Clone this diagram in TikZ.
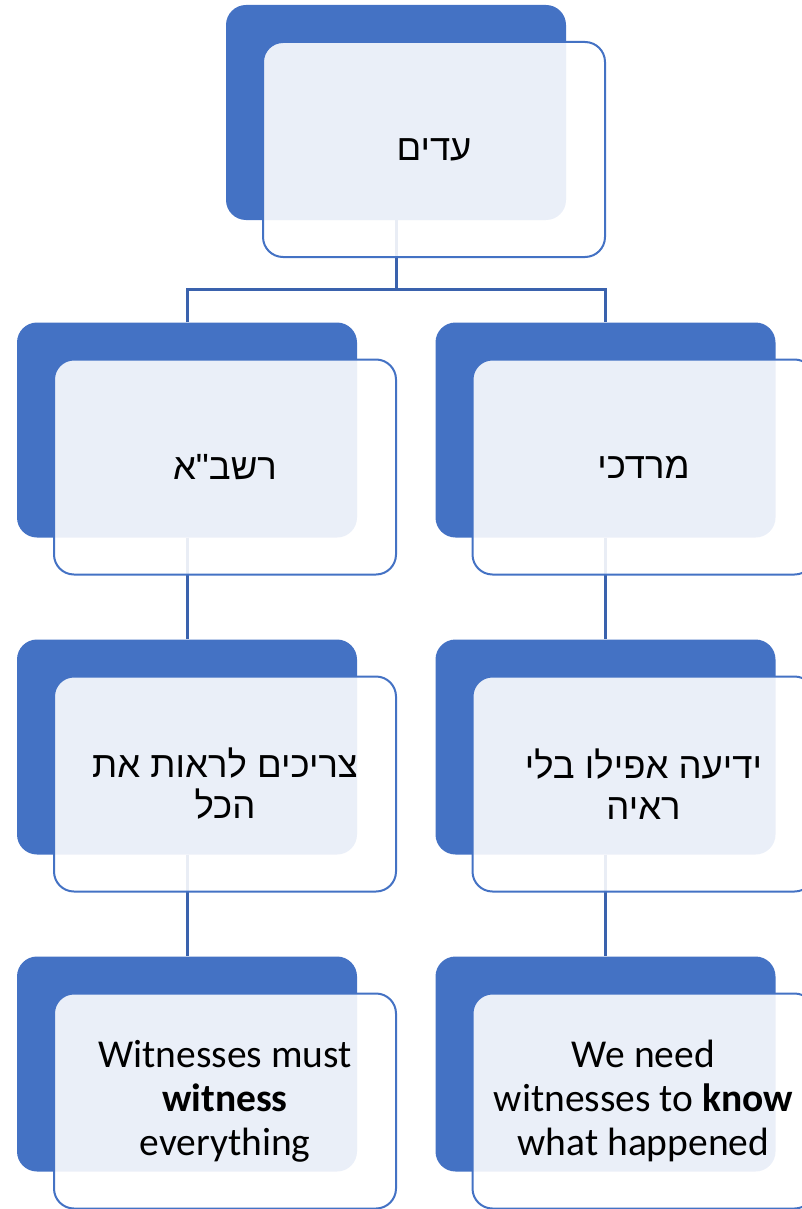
\documentclass[tikz,border=0pt]{standalone}
\usepackage{fontspec}
\setmainfont{Carlito}
\newfontfamily\hebfont[Script=Hebrew]{Liberation Sans}
\TeXXeTstate=1
\usepackage{tikz}

\definecolor{accblue}{HTML}{4472C4}
\definecolor{linkblue}{HTML}{3A62AD}

\tikzset{
  back/.style={fill=accblue, rounded corners=20pt, minimum width=340pt, minimum height=215pt, inner sep=0pt},
  card/.style={draw=accblue, line width=2pt, fill=white, fill opacity=0.89, text opacity=1, rounded corners=20pt,
    minimum width=342pt, minimum height=215pt, inner sep=0pt, align=center, font=\fontsize{39.5}{44}\selectfont},
  heb/.style={font=\hebfont\fontsize{36.5}{41}\selectfont},
  link/.style={draw=linkblue, line width=3pt}
}

\begin{document}
\begin{tikzpicture}[x=1pt,y=-1pt]
	\useasboundingbox (0,0) rectangle (801,1209);
	% back boxes
	\node[back] (edim) at (396,112.5) {};
	\node[back] (rashba) at (187,430) {};
	\node[back] (mordechai) at (605.5,430) {};
	\node[back] (rashbaA) at (187,747) {};
	\node[back] (mordechaiA) at (605.5,747) {};
	\node[back] (rashbaB) at (187,1064) {};
	\node[back] (mordechaiB) at (605.5,1064) {};
	% links
	\coordinate (bus) at (396,289);
	\draw[link] (edim.south) -- (bus);
	\draw[link] (rashba.north) |- (bus) -| (mordechai.north);
	\draw[link] (rashba.south) -- (rashbaA.north);
	\draw[link] (rashbaA.south) -- (rashbaB.north);
	\draw[link] (mordechai.south) -- (mordechaiA.north);
	\draw[link] (mordechaiA.south) -- (mordechaiB.north);
	% front cards
	\node[card,heb] (edimT) at ([shift={(38,37)}]edim.center) {\beginR עדים\endR};
	\node[card,heb] (rashbaT) at ([shift={(38,37)}]rashba.center) {\beginR רשב"א\endR};
	\node[card,heb] (mordechaiT) at ([shift={(38,37)}]mordechai.center) {\beginR מרדכי\endR};
	\node[card,heb] (rashbaAT) at ([shift={(38,37)}]rashbaA.center) {\beginR צריכים לראות את\endR\\\beginR הכל\endR};
	\node[card,heb] (mordechaiAT) at ([shift={(38,37)}]mordechaiA.center) {\beginR ידיעה אפילו בלי\endR\\\beginR ראיה\endR};
	\node[card] (rashbaBT) at ([shift={(38,37)}]rashbaB.center) {Witnesses must\\\textbf{witness}\\everything};
	\node[card] (mordechaiBT) at ([shift={(38,37)}]mordechaiB.center) {We need\\witnesses to \textbf{know}\\what happened};
\end{tikzpicture}
\end{document}
